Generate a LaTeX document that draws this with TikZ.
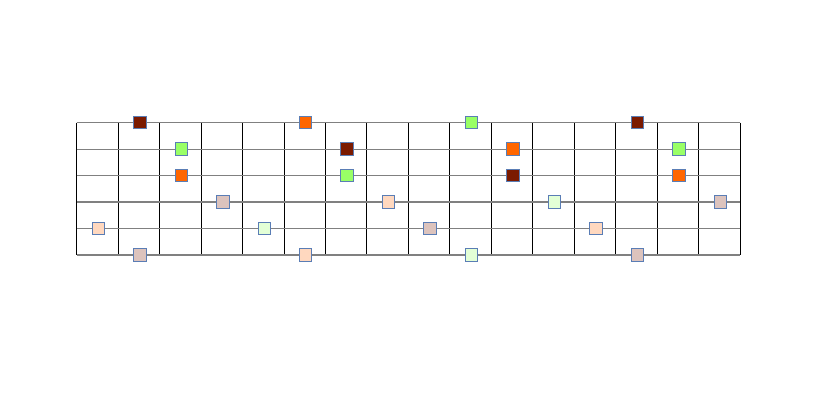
\documentclass[tikz,border=0pt]{standalone}
\definecolor{dred}{HTML}{7B1A00}
\definecolor{gre}{HTML}{99FF66}
\definecolor{ora}{HTML}{FF6600}
\definecolor{pbr}{HTML}{DCC3BD}
\definecolor{pea}{HTML}{FFD8BF}
\definecolor{lgr}{HTML}{E3FFD6}
\definecolor{bord}{HTML}{5A7DB5}
\tikzset{
  cell/.style={draw=bord, line width=0.9pt, minimum size=12.5pt, inner sep=0pt, outer sep=0pt},
  hline/.style={draw=black!50, line width=1.3pt},
  vline/.style={draw=black, line width=0.9pt}
}
\begin{document}
\begin{tikzpicture}[x=1pt,y=-1pt]
\useasboundingbox (0,0) rectangle (817,409);
\def\xo{76.5}\def\cw{41.49}\def\yo{122.7}\def\rh{26.46}
\foreach \i in {0,...,16} \draw[vline] ({\xo+\i*\cw},\yo) -- ({\xo+\i*\cw},{\yo+5*\rh});
\foreach \j in {0,...,5} \draw[hline] (\xo,{\yo+\j*\rh}) -- ({\xo+16*\cw},{\yo+\j*\rh});
\foreach \c/\r/\col [count=\n] in {
  0/4/pea, 1/0/dred, 1/5/pbr, 2/1/gre, 2/2/ora, 3/3/pbr, 4/4/lgr,
  5/0/ora, 5/5/pea, 6/1/dred, 6/2/gre, 7/3/pea, 8/4/pbr, 9/0/gre, 9/5/lgr,
  10/1/ora, 10/2/dred, 11/3/lgr, 12/4/pea, 13/0/dred, 13/5/pbr, 14/1/gre, 14/2/ora, 15/3/pbr}
  \node[cell, fill=\col] (s\n) at ({\xo+(\c+0.5)*\cw+1},{\yo+\r*\rh}) {};
\end{tikzpicture}
\end{document}
